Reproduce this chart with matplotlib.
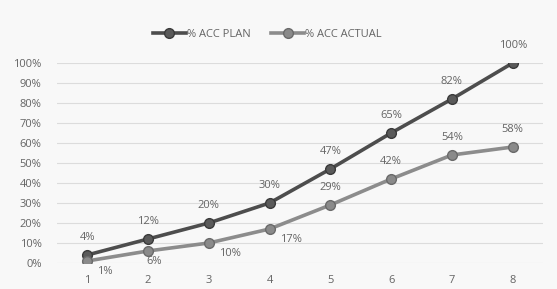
import matplotlib
matplotlib.use("Agg")
import matplotlib.pyplot as plt
from matplotlib.ticker import PercentFormatter

weeks = [1, 2, 3, 4, 5, 6, 7, 8]
acc_plan = [4, 12, 20, 30, 47, 65, 82, 100]
acc_actual = [1, 6, 10, 17, 29, 42, 54, 58]

plan_color = '#4d4d4d'
actual_color = '#8c8c8c'
text_color = '#646464'

plt.rcParams['font.family'] = ['Open Sans', 'DejaVu Sans']

fig = plt.figure(figsize=(5.57, 2.89), dpi=100, facecolor='#f8f8f8')
ax = fig.add_axes([0.102, 0.09, 0.873, 0.692], facecolor='#f8f8f8')

ax.plot(weeks, acc_plan, color=plan_color, lw=2.6, marker='o', ms=7,
        mfc='#5a5a5a', mec='#3a3a3a', mew=1, label='% ACC PLAN', zorder=3)
ax.plot(weeks, acc_actual, color=actual_color, lw=2.6, marker='o', ms=7,
        mfc='#8a8a8a', mec='#6a6a6a', mew=1, label='% ACC ACTUAL', zorder=3)

for x, y in zip(weeks, acc_plan):
    ax.annotate(f'{y}%', (x, y), textcoords='offset pixels', xytext=(0, 12),
                ha='center', va='bottom', fontsize=8, color=text_color)

for x, y in zip(weeks, acc_actual):
    if x <= 4:
        ax.annotate(f'{y}%', (x, y), textcoords='offset pixels', xytext=(10 if x != 2 else 6, -5),
                    ha='left' if x != 2 else 'center', va='top', fontsize=8, color=text_color)
    else:
        ax.annotate(f'{y}%', (x, y), textcoords='offset pixels', xytext=(0, 12),
                    ha='center', va='bottom', fontsize=8, color=text_color)

ax.set_xlim(0.5, 8.5)
ax.set_ylim(0, 100)
ax.set_yticks(range(0, 101, 10))
ax.yaxis.set_major_formatter(PercentFormatter(decimals=0))
ax.set_xticks(weeks)
ax.grid(axis='y', color='#dcdcdc', lw=0.8)
ax.set_axisbelow(True)
for s in ax.spines.values():
    s.set_visible(False)
ax.tick_params(axis='y', length=0, labelsize=8, colors=text_color, pad=11)
ax.tick_params(axis='x', length=0, labelsize=8, colors=text_color, pad=9)

fig.legend(loc='upper center', bbox_to_anchor=(0.48, 0.935), ncol=2, frameon=False,
           fontsize=8, labelcolor=text_color, handlelength=3, columnspacing=1.8,
           handletextpad=0.1)

fig.savefig('out.png', dpi=100, facecolor=fig.get_facecolor())
